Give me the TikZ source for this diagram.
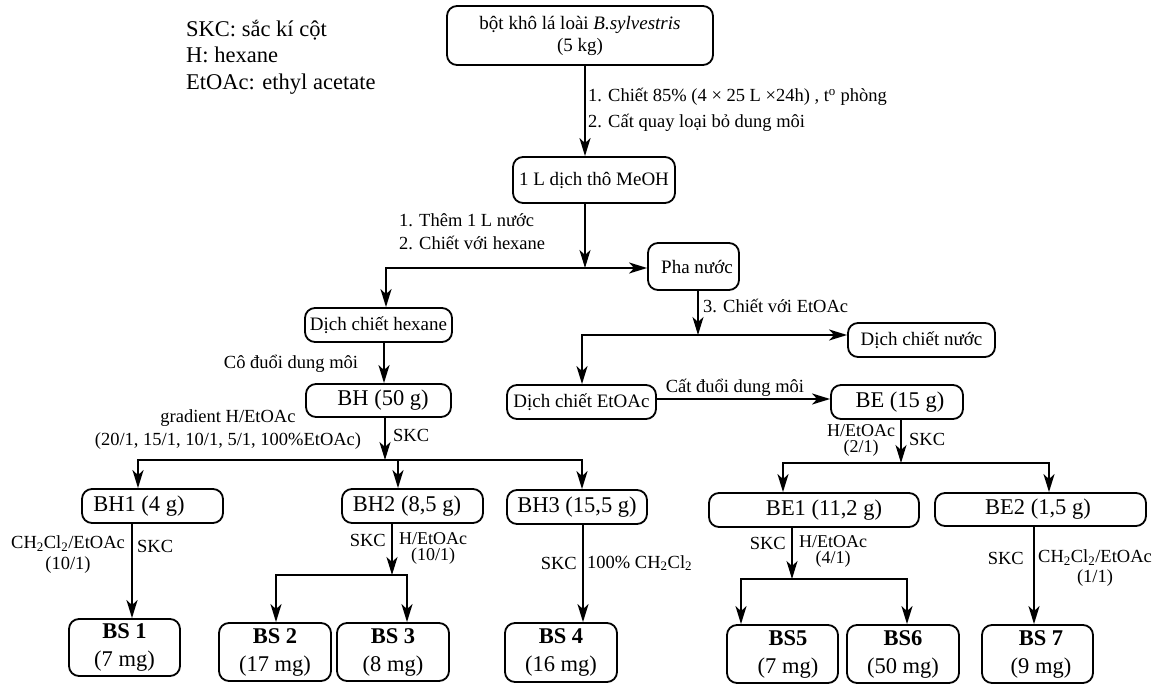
\documentclass[tikz,border=0pt]{standalone}
\usepackage{fontspec}
\setmainfont{Liberation Serif}
\usetikzlibrary{arrows.meta,calc}
\begin{document}
\begin{tikzpicture}[x=1pt,y=-1pt,
  box/.style={draw, line width=1.8pt, rounded corners=10pt, inner sep=0pt, align=center},
  big/.style={font=\fontsize{22.5}{28}\selectfont},
  mid/.style={font=\fontsize{19}{22}\selectfont},
  lab/.style={font=\fontsize{18.5}{23}\selectfont, inner sep=0pt},
  sm/.style={font=\fontsize{18}{16}\selectfont, inner sep=0pt, align=center},
  arr/.style={line width=2pt, -{Stealth[length=18pt,width=11pt,inset=5pt]}},
  ln/.style={line width=2pt, line cap=rect}]
\useasboundingbox (0,0) rectangle (1165,684);
\fill[white] (0,0) rectangle (1165,684);

% legend
\node[font=\fontsize{22.5}{26.5}\selectfont, inner sep=0pt, anchor=west, align=left] (leg) at (186,57)
  {SKC: sắc kí cột\\H: hexane\\EtOAc: ethyl acetate};

% nodes
\node[box, mid, minimum width=266, minimum height=59] (top) at (580,35.5) {bột khô lá loài \textit{B.sylvestris}\\(5 kg)};
\node[box, mid, minimum width=162, minimum height=46] (meoh) at (594,180) {1 L dịch thô MeOH};
\node[box, mid, minimum width=91, minimum height=47] (pha) at (693.5,266.5) {\hspace*{7pt}Pha nước};
\node[box, mid, minimum width=147, minimum height=34] (dhex) at (378.5,325) {Dịch chiết hexane};
\node[box, mid, minimum width=147, minimum height=34] (dnuoc) at (921.5,340) {Dịch chiết nước};
\node[box, mid, minimum width=149, minimum height=34] (deto) at (581.5,402) {Dịch chiết EtOAc};
\node[box, big, minimum width=145, minimum height=33] (bh) at (378.5,400.5) {\hspace*{9pt}BH (50 g)};
\node[box, big, minimum width=132, minimum height=34] (be) at (897,402) {\hspace*{6pt}BE (15 g)};
\node[box, big, minimum width=141, minimum height=34] (bh1) at (152.5,506) {\hspace*{-27pt}BH1 (4 g)};
\node[box, big, minimum width=141, minimum height=34] (bh2) at (412.5,506) {\hspace*{-11pt}BH2 (8,5 g)};
\node[box, big, minimum width=140, minimum height=34] (bh3) at (577,507) {BH3 (15,5 g)};
\node[box, big, minimum width=210, minimum height=34] (be1) at (814,510) {\hspace*{20pt}BE1 (11,2 g)};
\node[box, big, minimum width=211, minimum height=33] (be2) at (1040.5,509.5) {\hspace*{-5pt}BE2 (1,5 g)};
\node[box, big, minimum width=111, minimum height=57] (bs1) at (124.5,647.5) {\textbf{BS 1}\\(7 mg)};
\node[box, big, minimum width=112, minimum height=58] (bs2) at (275,652) {\textbf{BS 2}\\(17 mg)};
\node[box, big, minimum width=112, minimum height=58] (bs3) at (393,652) {\textbf{BS 3}\\(8 mg)};
\node[box, big, minimum width=112, minimum height=59] (bs4) at (561,652.5) {\textbf{BS 4}\\(16 mg)};
\node[box, big, minimum width=111, minimum height=58] (bs5) at (782.5,654) {\hspace*{11pt}\textbf{BS5}\\\hspace*{11pt}(7 mg)};
\node[box, big, minimum width=112, minimum height=58] (bs6) at (903,654) {\textbf{BS6}\\(50 mg)};
\node[box, big, minimum width=111, minimum height=58] (bs7) at (1037.5,654) {\hspace*{7pt}\textbf{BS 7}\\\hspace*{7pt}(9 mg)};

% labels
\node[lab, font=\fontsize{18.5}{26}\selectfont, anchor=west, align=left] (l1) at (588,110)
  {1. Chiết 85\% (4 × 25 L ×24h) , t\textsuperscript{o} phòng\\2. Cất quay loại bỏ dung môi};
\node[lab, anchor=west, align=left] (l2) at (399,231.5) {1. Thêm 1 L nước\\2. Chiết với hexane};
\node[lab, anchor=west] (l3) at (703,306) {3. Chiết với EtOAc};
\node[lab] (l4) at (291,364) {Cô đuổi dung môi};
\node[lab] (l5) at (735,388) {Cất đuổi dung môi};
\node[lab, align=center] (l6) at (228,430) {gradient H/EtOAc\\(20/1, 15/1, 10/1, 5/1, 100\%EtOAc)};
\node[lab, anchor=west] (l7) at (393,435) {SKC};
\node[lab, font=\fontsize{18.5}{21}\selectfont, align=center] (l8) at (68,554.5) {CH\textsubscript{2}Cl\textsubscript{2}/EtOAc\\(10/1)};
\node[lab, anchor=west] (l9) at (137,546) {SKC};
\node[lab, anchor=east] (l10) at (386,540) {SKC};
\node[sm] (l11) at (433,548) {H/EtOAc\\(10/1)};
\node[lab, anchor=east] (l12) at (577,563) {SKC};
\node[lab, anchor=west] (l13) at (587,563) {100\% CH\textsubscript{2}Cl\textsubscript{2}};
\node[sm] (l14) at (861,440) {H/EtOAc\\(2/1)};
\node[lab, anchor=west] (l15) at (909,439) {SKC};
\node[lab, anchor=east] (l16) at (786,543) {SKC};
\node[sm] (l17) at (833,551) {H/EtOAc\\(4/1)};
\node[lab, anchor=east] (l18) at (1024,558) {SKC};
\node[lab, font=\fontsize{18.5}{20}\selectfont, align=center] (l19) at (1095,568) {CH\textsubscript{2}Cl\textsubscript{2}/EtOAc\\(1/1)};

% junction coordinates
\coordinate (j1) at (585,268);
\coordinate (hL) at (386,268);
\coordinate (j2) at (698,335);
\coordinate (hE) at (582,335);
\coordinate (j3) at (385,460);
\coordinate (a1) at (138,460);
\coordinate (a2) at (398,460);
\coordinate (a3) at (582,460);
\coordinate (j4) at (392,575);
\coordinate (b1) at (276,575);
\coordinate (b2) at (407,575);
\coordinate (j5) at (901,463);
\coordinate (c1) at (783,463);
\coordinate (c2) at (1049,463);
\coordinate (j6) at (792,579);
\coordinate (d1) at (741,579);
\coordinate (d2) at (907,579);

% connectors
\draw[arr] ([xshift=5pt]top.south) -- ([xshift=5pt]top.south |- meoh.north);
\draw[arr] ([xshift=-9pt]meoh.south) -- (j1);
\draw[arr, line join=miter] (j1) -- (hL) -- (hL |- dhex.north);
\draw[arr] (j1) -- (j1 -| pha.west);
\draw[arr] ([xshift=4.5pt]pha.south) -- (j2);
\draw[arr, line join=miter] (j2) -- (hE) -- (hE |- deto.north);
\draw[arr] (j2) -- (j2 -| dnuoc.west);
\draw[arr] ([xshift=5.5pt]dhex.south) -- ([xshift=5.5pt]dhex.south |- bh.north);
\draw[arr] ([yshift=3pt]deto.east) -- ([yshift=3pt]deto.east -| be.west);

\draw[arr] ([xshift=6.5pt]bh.south) -- (j3);
\draw[ln] (a1) -- (a3);
\draw[arr] (a1) -- (a1 |- bh1.north);
\draw[arr] (a2) -- (a2 |- bh2.north);
\draw[arr] (a3) -- (a3 |- bh3.north);

\draw[arr] ([xshift=-20.5pt]bh1.south) -- ([xshift=-20.5pt]bh1.south |- bs1.north);
\draw[arr] ([xshift=-20.5pt]bh2.south) -- (j4);
\draw[ln] (b1) -- (b2);
\draw[arr] (b1) -- (b1 |- bs2.north);
\draw[arr] (b2) -- (b2 |- bs3.north);
\draw[arr] ([xshift=6pt]bh3.south) -- ([xshift=6pt]bh3.south |- bs4.north);

\draw[arr] ([xshift=4pt]be.south) -- (j5);
\draw[ln] (c1) -- (c2);
\draw[arr] (c1) -- (c1 |- be1.north);
\draw[arr] (c2) -- (c2 |- be2.north);
\draw[arr] ([xshift=-22pt]be1.south) -- (j6);
\draw[ln] (d1) -- (d2);
\draw[arr] (d1) -- (d1 |- bs5.north);
\draw[arr] (d2) -- (d2 |- bs6.north);
\draw[arr] ([xshift=-6.5pt]be2.south) -- ([xshift=-6.5pt]be2.south |- bs7.north);
\end{tikzpicture}
\end{document}
